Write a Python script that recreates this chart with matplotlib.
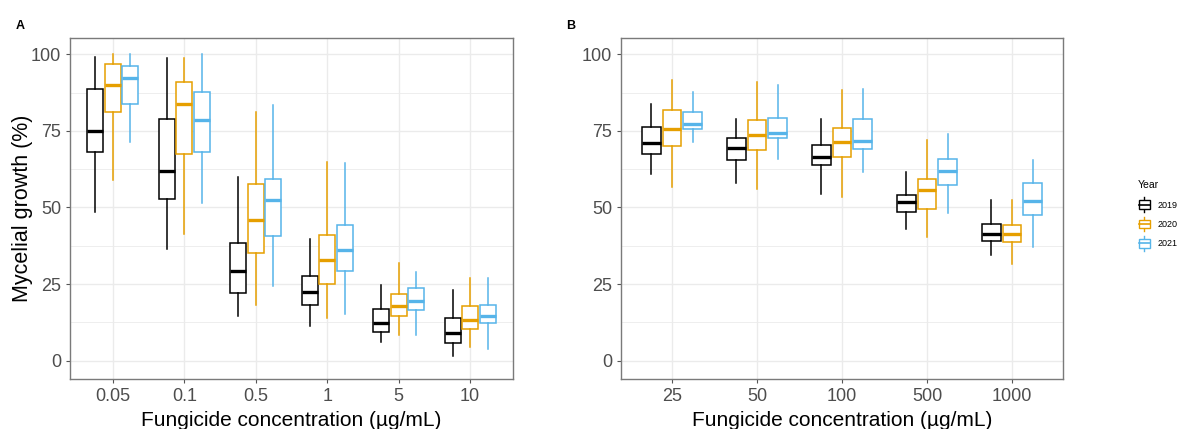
import matplotlib
matplotlib.use("Agg")
import matplotlib.pyplot as plt
from matplotlib.legend_handler import HandlerBase
from matplotlib.patches import Rectangle
from matplotlib.lines import Line2D

plt.rcParams["font.family"] = ["Liberation Sans", "DejaVu Sans"]

# five-number summaries per box: [whisker low, Q1, median, Q3, whisker high]
conc_a = ["0.05", "0.1", "0.5", "1", "5", "10"]
conc_b = ["25", "50", "100", "500", "1000"]
years = ["2019", "2020", "2021"]
colors = ["#000000", "#E69F00", "#56B4E9"]

a_2019 = [[48.5, 68.0, 74.9, 88.5, 99.1],
          [36.5, 52.6, 62.0, 79.0, 98.9],
          [14.7, 22.0, 29.4, 38.3, 60.0],
          [11.3, 18.1, 22.4, 27.7, 39.7],
          [6.2, 9.4, 12.2, 17.0, 24.8],
          [1.4, 5.9, 9.0, 14.0, 23.0]]
a_2020 = [[59.0, 81.2, 90.1, 96.7, 100.0],
          [41.2, 67.4, 83.6, 90.8, 98.9],
          [18.3, 35.0, 45.8, 57.5, 81.0],
          [13.9, 25.0, 33.0, 40.9, 64.7],
          [8.4, 14.7, 17.8, 21.8, 32.0],
          [4.3, 10.4, 13.1, 17.8, 27.0]]
a_2021 = [[71.4, 83.8, 92.4, 96.3, 100.0],
          [51.4, 68.1, 78.5, 87.7, 100.0],
          [24.4, 40.6, 52.4, 59.2, 83.5],
          [15.1, 29.4, 36.0, 44.1, 64.4],
          [8.4, 16.4, 19.3, 23.7, 28.8],
          [3.8, 12.3, 14.5, 18.1, 27.1]]

b_2019 = [[60.8, 67.3, 71.0, 76.2, 83.6],
          [58.1, 65.5, 69.4, 72.7, 79.0],
          [54.5, 63.7, 66.3, 70.4, 79.0],
          [43.0, 48.4, 51.8, 53.9, 61.7],
          [34.4, 39.0, 41.2, 44.6, 52.4]]
b_2020 = [[56.8, 70.0, 75.5, 81.7, 91.7],
          [56.1, 68.7, 73.6, 78.4, 90.9],
          [53.3, 66.6, 71.3, 75.9, 88.3],
          [40.3, 49.6, 55.6, 59.4, 71.9],
          [31.6, 38.7, 41.3, 44.3, 52.4]]
b_2021 = [[71.2, 75.7, 77.3, 81.2, 87.8],
          [65.7, 72.5, 74.3, 79.3, 89.8],
          [61.7, 69.1, 71.6, 79.0, 88.5],
          [48.1, 57.3, 61.9, 65.8, 74.0],
          [37.2, 47.4, 52.1, 57.9, 65.5]]

GRID = "#EBEBEB"
TICK = "#4D4D4D"
DODGE = 0.245
BOX_W = 0.22


def draw_panel(ax, cats, series):
    for k, (vals, col) in enumerate(zip(series, colors)):
        stats = [dict(whislo=v[0], q1=v[1], med=v[2], q3=v[3], whishi=v[4],
                      fliers=[]) for v in vals]
        pos = [i + (k - 1) * DODGE for i in range(len(cats))]
        ax.bxp(stats, positions=pos, widths=BOX_W, showcaps=False,
               showfliers=False, patch_artist=True, manage_ticks=False,
               boxprops=dict(facecolor="white", edgecolor=col, linewidth=1.1),
               whiskerprops=dict(color=col, linewidth=1.1),
               medianprops=dict(color=col, linewidth=2.4,
                                solid_capstyle="butt"),
               zorder=3)
    ax.set_xlim(-0.6, len(cats) - 0.4)
    ax.set_ylim(-6, 105.3)
    ax.set_xticks(range(len(cats)))
    ax.set_xticklabels(cats)
    ax.set_yticks([0, 25, 50, 75, 100])
    ax.set_yticks([12.5, 37.5, 62.5, 87.5], minor=True)
    ax.grid(True, which="major", color=GRID, linewidth=1.0, zorder=0)
    ax.grid(True, which="minor", axis="y", color=GRID, linewidth=0.6, zorder=0)
    ax.set_axisbelow(True)
    ax.tick_params(axis="both", which="major", labelsize=13,
                   labelcolor=TICK, color="#555555", length=3, width=0.8)
    ax.tick_params(axis="y", which="minor", length=0)
    for s in ax.spines.values():
        s.set_color("#7A7A7A")
        s.set_linewidth(1.0)
    ax.set_xlabel("Fungicide concentration (µg/mL)", fontsize=15,
                  labelpad=4)


class BoxKeyHandler(HandlerBase):
    def create_artists(self, legend, orig_handle, xdescent, ydescent,
                       width, height, fontsize, trans):
        col = orig_handle.get_color()
        cx = width / 2 - xdescent
        bw = width * 0.85
        rect = Rectangle((cx - bw / 2, -ydescent + height * 0.1), bw,
                         height * 0.8, facecolor="white", edgecolor=col,
                         linewidth=1.0, transform=trans)
        med = Line2D([cx - bw / 2, cx + bw / 2],
                     [-ydescent + height * 0.5] * 2, color=col,
                     linewidth=1.2, transform=trans)
        wh = Line2D([cx, cx], [-ydescent - height * 0.2,
                               -ydescent + height * 1.2], color=col,
                    linewidth=1.0, transform=trans)
        return [wh, rect, med]


fig = plt.figure(figsize=(11.84, 4.29), dpi=100)
ax_a = fig.add_axes([0.0591, 0.1166, 0.3742, 0.7948])
ax_b = fig.add_axes([0.5245, 0.1166, 0.3733, 0.7948])

draw_panel(ax_a, conc_a, [a_2019, a_2020, a_2021])
draw_panel(ax_b, conc_b, [b_2019, b_2020, b_2021])
ax_a.set_ylabel("Mycelial growth (%)", fontsize=15.5, labelpad=-1.5)

fig.text(0.0169, 0.94, "A", fontsize=9, fontweight="bold",
         ha="center", va="center")
fig.text(0.4823, 0.94, "B", fontsize=9, fontweight="bold",
         ha="center", va="center")

handles = [Line2D([], [], color=c) for c in colors]
leg = fig.legend(handles, years, title="Year", loc="center left",
                 bbox_to_anchor=(0.958, 0.5), frameon=False, fontsize=6.5,
                 title_fontsize=7.5, handlelength=1.4, handleheight=1.4,
                 handletextpad=0.8, labelspacing=1.0, borderaxespad=0,
                 handler_map={Line2D: BoxKeyHandler()})
leg._legend_box.align = "left"

fig.savefig("out.png", dpi=100)
